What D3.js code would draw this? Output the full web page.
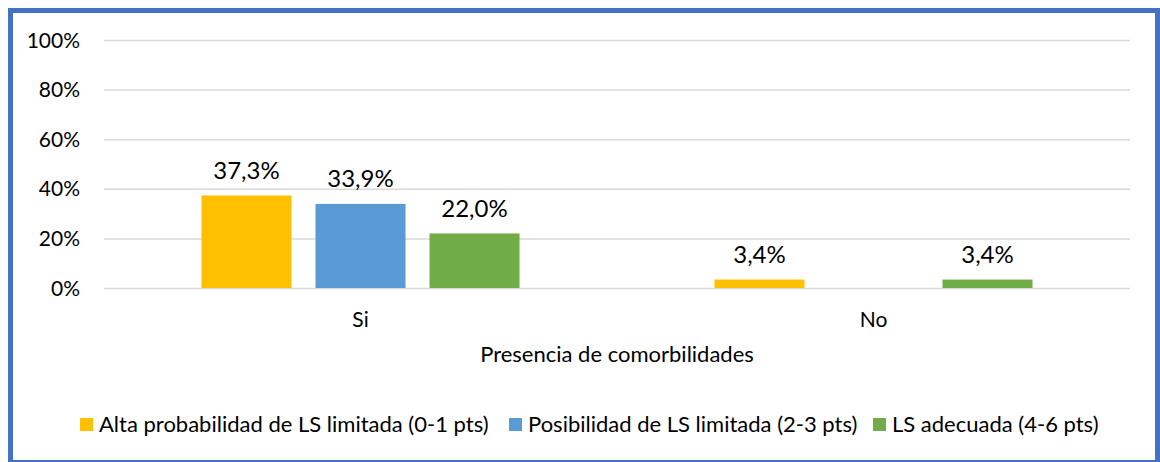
<!DOCTYPE html>
<html><head><meta charset="utf-8">
<script src="https://cdn.jsdelivr.net/npm/d3@7"></script>
<style>body{margin:0;background:#fff}svg{display:block}text{font-family:Lato,"Open Sans",sans-serif;fill:#000}</style>
</head><body>
<svg id="c" width="1160" height="462"></svg>
<script>
const categories = ["Si", "No"];
const seriesNames = ["Alta probabilidad de LS limitada (0-1 pts)", "Posibilidad de LS limitada (2-3 pts)", "LS adecuada (4-6 pts)"];
const seriesAlta = [37.3, 3.4];
const seriesPosib = [33.9, 0];
const seriesAdec = [22.0, 3.4];
const seriesColors = ["#FFC000", "#5B9BD5", "#70AD47"];
const yTicks = [0, 20, 40, 60, 80, 100];
const xTitle = "Presencia de comorbilidades";

const series = [seriesAlta, seriesPosib, seriesAdec];
const svg = d3.select("#c");

// border
svg.append("rect").attr("x", 10.5).attr("y", 10.5).attr("width", 1147).attr("height", 452)
  .attr("fill", "none").attr("stroke", "#4472C4").attr("stroke-width", 5);

const x0 = d3.scaleBand().domain(categories).range([104, 1130]).padding(0);
const x1 = d3.scaleBand().domain(d3.range(series.length)).range([0, x0.bandwidth()])
  .paddingInner(0.2105).paddingOuter(0.855);
const y = d3.scaleLinear().domain([0, 100]).range([288, 40]);

// gridlines
const yAxis = d3.axisLeft(y).tickValues(yTicks).tickSize(-(1130 - 104)).tickFormat(d => d + "%").tickPadding(24);
const gy = svg.append("g").attr("transform", "translate(104,0)").call(yAxis);
gy.select(".domain").remove();
gy.selectAll(".tick line").attr("stroke", "#D9D9D9").attr("stroke-width", 1.5);
gy.selectAll(".tick text").style("font-size", "21px").attr("fill", "#000").attr("dy", "0.34em");

// bars
categories.forEach((cat, ci) => {
  series.forEach((s, si) => {
    const v = s[ci];
    if (v <= 0) return;
    const bx = x0(cat) + x1(si);
    svg.append("rect").attr("x", bx).attr("y", y(v)).attr("width", x1.bandwidth())
      .attr("height", y(0) - y(v)).attr("fill", seriesColors[si]);
    svg.append("text").attr("x", bx + x1.bandwidth() / 2).attr("y", y(v) - 25)
      .attr("dy", "0.34em")
      .attr("text-anchor", "middle").style("font-size", "24px")
      .text(v.toFixed(1).replace(".", ",") + "%");
  });
});

// category labels
const xAxis = d3.axisBottom(x0).tickSize(0).tickPadding(0);
const gx = svg.append("g").attr("transform", "translate(0,288)").call(xAxis);
gx.select(".domain").remove();
gx.selectAll(".tick text").style("font-size", "21px").attr("fill", "#000").attr("y", 32).attr("dy", "0.34em");

svg.append("text").attr("x", 617).attr("y", 355).attr("dy", "0.34em").attr("text-anchor", "middle")
  .style("font-size", "22px").text(xTitle);

// legend
const legX = [80, 509, 873];
seriesNames.forEach((n, i) => {
  svg.append("rect").attr("x", legX[i]).attr("y", 418).attr("width", 13).attr("height", 13).attr("fill", seriesColors[i]);
  svg.append("text").attr("x", legX[i] + 19).attr("y", 425).attr("dy", "0.34em").style("font-size", "22px").text(n);
});
</script>
</body></html>
